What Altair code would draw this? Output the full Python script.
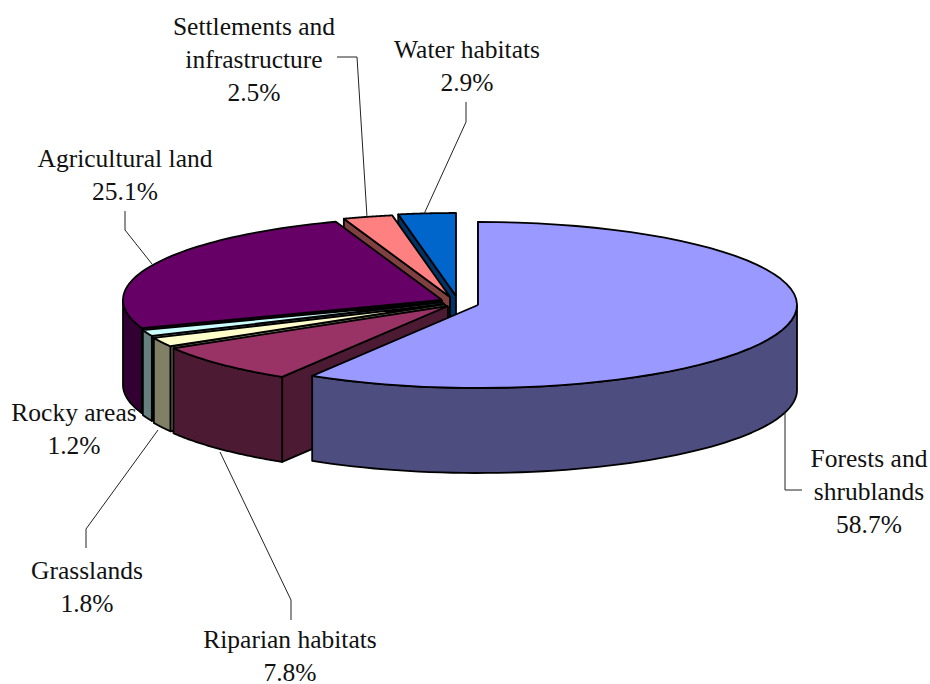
import altair as alt
import numpy as np
import pandas as pd

# Land-cover shares, clockwise from twelve o'clock
names = ["Forests and shrublands", "Riparian habitats", "Grasslands", "Rocky areas",
         "Agricultural land", "Settlements and infrastructure", "Water habitats"]
shares = [58.7, 7.8, 1.8, 1.2, 25.1, 2.5, 2.9]
top_colors = ["#9999FF", "#993366", "#FFFFCC", "#CCFFFF", "#660066", "#FF8080", "#0066CC"]
side_colors = ["#4D4D80", "#4D1A33", "#808066", "#668080", "#330033", "#804040", "#003366"]

# Text lines of each callout and the leader that ties it to its slice
label_lines = [["Forests and", "shrublands"], ["Riparian habitats"], ["Grasslands"], ["Rocky areas"],
               ["Agricultural land"], ["Settlements and", "infrastructure"], ["Water habitats"]]
label_x = [869, 290, 87, 74, 125, 254, 467]
label_y = [459, 640, 571, 413, 159, 27, 50]
line_step = 33
leaders = [
    [(785, 412), (785, 490), (802, 490)],
    [(220, 452), (291, 600), (291, 620)],
    [(158, 430), (86, 529), (86, 548)],
    [],
    [(125, 211), (125, 230), (152, 264)],
    [(337, 57), (357, 57), (367, 217)],
    [(466, 102), (466, 122), (424, 214)],
]

# Pie geometry: ellipse radii, slab thickness, and where each pulled-out slice has its tip
W, H = 930, 684
RX, RY, DEPTH = 319, 83, 85
tips = [(478, 305), (448, 306), (445, 304), (443, 302), (442, 300), (450, 297), (456, 296)]

x_scale = alt.Scale(domain=[0, W], range=[0, W])
y_scale = alt.Scale(domain=[0, H], range=[0, H])


def rim(tip, start, end, steps=60):
    angles = np.radians(np.linspace(start, end, steps))
    return list(zip(tip[0] + RX * np.sin(angles), tip[1] - RY * np.cos(angles)))


def polygon(points, fill):
    closed = list(points) + [points[0]]
    frame = pd.DataFrame({"px": [p[0] for p in closed], "py": [p[1] for p in closed],
                          "seq": range(len(closed))})
    return (
        alt.Chart(frame)
        .mark_line(fill=fill, stroke="black", strokeWidth=1.8, strokeJoin="round")
        .encode(x=alt.X("px:Q", scale=x_scale, axis=None),
                y=alt.Y("py:Q", scale=y_scale, axis=None),
                order="seq:Q")
    )


def lowered(points):
    return [(x, y + DEPTH) for x, y in points]


layers = []
stops = np.cumsum([0] + shares) * 3.6

# Painted back to front: water first, forests last
for i in reversed(range(len(shares))):
    tip, start, end = tips[i], stops[i], stops[i + 1]
    edge = rim(tip, start, start, 1)[0]
    layers.append(polygon([tip, edge, (edge[0], edge[1] + DEPTH), (tip[0], tip[1] + DEPTH)], side_colors[i]))
    lo, hi = max(start, 90), min(end, 270)
    if hi > lo:
        arc = rim(tip, lo, hi)
        layers.append(polygon(arc + lowered(arc)[::-1], side_colors[i]))
    layers.append(polygon([tip] + rim(tip, start, end), top_colors[i]))

# Leader lines
for path in leaders:
    if path:
        frame = pd.DataFrame({"px": [p[0] for p in path], "py": [p[1] for p in path],
                              "seq": range(len(path))})
        layers.append(
            alt.Chart(frame)
            .mark_line(stroke="#222222", strokeWidth=1)
            .encode(x=alt.X("px:Q", scale=x_scale, axis=None),
                    y=alt.Y("py:Q", scale=y_scale, axis=None),
                    order="seq:Q")
        )

# Callout text, with the share on the last line
rows = []
for lines, share, lx, ly in zip(label_lines, shares, label_x, label_y):
    for k, line in enumerate(lines + [f"{share}%"]):
        rows.append({"px": lx, "py": ly + k * line_step, "line": line})
layers.append(
    alt.Chart(pd.DataFrame(rows))
    .mark_text(font="Liberation Serif", fontSize=25.5, color="#111111", baseline="middle", align="center")
    .encode(x=alt.X("px:Q", scale=x_scale, axis=None),
            y=alt.Y("py:Q", scale=y_scale, axis=None),
            text="line:N")
)

chart = (
    alt.layer(*layers)
    .properties(width=W, height=H, padding=0, autosize=alt.AutoSizeParams(type="none"), background="white")
    .configure_view(stroke=None)
)

chart.save("out.html", embed_options={"renderer": "svg", "actions": False})
